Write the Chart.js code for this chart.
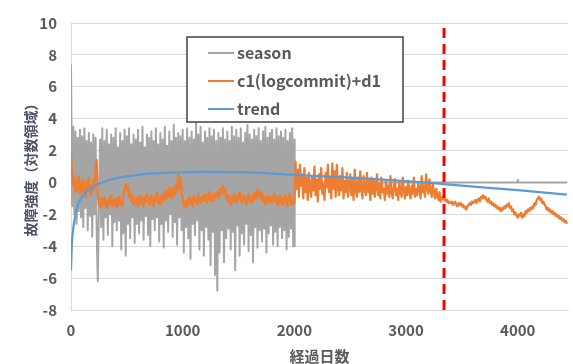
<!DOCTYPE html>
<html>
<head>
<meta charset="utf-8">
<script src="https://cdn.jsdelivr.net/npm/chart.js@4/dist/chart.umd.min.js"></script>
<style>
html,body{margin:0;padding:0;background:#fff;}
#wrap{position:relative;width:573px;height:364px;}
</style>
</head>
<body>
<div id="wrap"><canvas id="c" width="573" height="364"></canvas></div>
<script>
// ---- data ----
const seriesNames = ["season", "c1(logcommit)+d1", "trend"];
const xTicks = [0, 1000, 2000, 3000, 4000];
const yTicks = [-8, -6, -4, -2, 0, 2, 4, 6, 8, 10];
const changeDay = 3340;

// season: one value every 10 days, days 0..2000
const seasonStep = 10;
const seasonVals = [
  7.4,-1.5,3.5,-2.0,3.2,-2.6,2.8,-1.8,3.3,-2.2,
  2.9,-2.8,3.4,-1.6,2.6,-3.0,3.1,-2.1,2.5,-3.4,
  3.0,-2.0,2.8,-3.1,-6.2,-1.5,2.7,-2.8,3.4,-3.6,
  2.6,-2.2,3.3,-3.3,2.4,-2.0,3.0,-4.0,2.8,-2.5,
  3.4,-3.0,2.2,-2.4,3.1,-4.2,2.6,-3.2,3.3,-4.6,
  2.9,-2.6,3.4,-3.5,2.4,-2.2,3.0,-3.8,2.7,-2.6,
  3.3,-3.2,2.5,-2.4,3.5,-3.6,2.2,-2.1,3.0,-3.3,
  2.8,-4.0,3.2,-2.3,2.6,-3.0,3.4,-2.2,2.4,-3.7,
  3.1,-2.6,2.7,-4.1,3.5,-2.4,2.3,-3.1,3.2,-2.0,
  2.6,-3.4,3.6,-2.5,2.8,-3.9,3.1,-2.2,2.9,-3.0,
  3.3,-4.4,2.6,-2.8,3.4,-3.5,2.8,-4.8,3.2,-2.6,
  2.7,-3.3,3.9,-2.4,3.0,-4.2,3.5,-3.0,2.5,-4.6,
  3.2,-2.8,2.8,-3.6,3.4,-5.2,2.9,-3.1,3.3,-5.8,
  2.6,-6.8,3.1,-4.4,2.8,-3.0,3.4,-5.0,2.7,-3.5,
  3.2,-2.9,2.6,-4.2,3.5,-3.1,2.9,-5.5,3.3,-2.7,
  2.8,-4.6,3.4,-3.2,2.5,-3.9,3.1,-2.6,3.6,-4.3,
  3.0,-3.3,2.7,-5.0,3.3,-2.8,2.9,-4.1,3.4,-3.0,
  2.6,-3.7,3.2,-2.9,3.5,-4.4,2.8,-3.2,3.1,-2.7,
  3.3,-3.9,2.7,-3.1,3.4,-4.0,2.9,-2.8,3.2,-3.5,
  2.8,-3.0,3.3,-4.2,2.6,-3.4,3.1,-2.9,3.4,-4.0,
  2.7
];
// season after day 2000 (flat)
const seasonTailDays = [2000, 2005, 3995, 4000, 4005, 4440];
const seasonTailVals = [-4.0, 0.0, 0.0, 0.15, 0.0, 0.0];

// c1(logcommit)+d1: one value every 10 days, days 0..4440
const orangeStep = 10;
const orangeVals = [
  1.8,0.6,-0.2,0.3,-0.6,0.1,-0.5,0.4,-0.7,0.0,
  -0.6,0.2,-0.4,-0.9,0.1,-0.5,0.3,-0.8,-0.2,-0.6,
  0.2,-0.4,1.0,1.4,-0.8,-1.4,-1.0,-1.6,-1.1,-1.4,
  -0.9,-1.5,-1.2,-1.6,-1.0,-1.3,-0.8,-1.5,-1.1,-1.4,
  -1.0,-1.6,-1.2,-0.9,-1.4,-1.1,-1.5,-0.7,-0.4,-0.1,
  -0.5,-0.2,-0.9,-0.6,-1.2,-0.8,-1.4,-1.0,-1.3,-0.9,
  -1.5,-1.1,-0.8,-1.3,-1.0,-1.5,-0.9,-1.2,-0.7,-1.3,
  -1.0,-1.4,-0.8,-1.2,-1.5,-0.9,-1.1,-0.6,-1.3,-1.0,
  -1.4,-0.8,-1.2,-0.7,-1.1,-0.5,-1.0,-0.8,-0.3,-0.9,
  -0.4,-1.0,-0.3,-0.8,-0.2,-0.6,0.5,-0.4,0.3,-0.6,
  -1.0,-1.5,-1.2,-1.6,-1.1,-1.4,-0.9,-1.3,-1.0,-1.5,
  -0.8,-1.2,-1.0,-1.4,-0.7,-1.1,-1.3,-0.9,-1.2,-0.8,
  -1.1,-0.7,-1.3,-0.9,-0.6,-1.0,-1.2,-0.8,-1.1,-0.7,
  -0.9,-0.6,-1.0,-0.4,-0.8,-0.5,-0.2,-0.7,-0.4,-0.9,
  -1.2,-0.8,-1.1,-1.4,-0.9,-1.2,-0.7,-1.0,-1.3,-0.8,
  -1.1,-0.6,-1.0,-1.3,-0.8,-1.2,-0.9,-1.4,-1.0,-0.7,
  -1.2,-0.9,-1.3,-0.8,-1.1,-0.6,-1.0,-0.4,-0.9,-0.6,
  -1.0,-0.7,-1.2,-0.9,-1.4,-1.0,-0.8,-1.3,-1.1,-0.9,
  -1.3,-1.0,-0.7,-1.2,-0.9,-1.5,-1.1,-0.8,-1.3,-1.0,
  -1.4,-1.1,-0.8,-1.2,-1.5,-1.0,-0.7,-1.2,-1.4,-1.1,
  -1.3,1.3,-0.4,0.8,-0.9,1.1,-0.2,0.5,-1.0,0.9,
  -0.6,0.3,-1.1,0.6,-0.3,-0.9,0.4,-0.5,1.0,-0.8,
  0.2,-1.2,0.5,-0.4,0.9,-0.7,-0.1,-1.1,0.6,-0.3,
  1.1,-0.6,0.3,-1.0,1.2,-0.4,0.7,-0.9,1.1,-0.2,
  -0.8,0.4,-0.5,0.9,-1.0,0.1,-0.6,0.6,-0.9,-0.2,
  0.5,-0.8,0.2,-1.1,0.8,-0.4,-0.9,0.3,-0.6,0.7,
  -0.5,-1.0,0.4,-0.3,-0.8,0.6,-0.6,0.1,-1.1,0.3,
  -0.7,0.2,-0.9,-0.3,0.5,-0.8,-0.1,-1.0,0.3,-0.6,
  -0.4,-1.1,0.1,-0.7,-0.2,-0.9,0.4,-0.6,-1.0,-0.3,
  0.2,-0.8,-0.4,-1.1,0.0,-0.6,-0.9,0.3,-0.5,-1.0,
  -0.3,-0.8,0.1,-0.6,-1.0,-0.2,-0.7,0.3,-0.9,-0.4,
  -0.8,0.0,-0.5,-1.0,0.4,-0.6,-0.2,-0.9,0.5,-0.4,
  -0.7,0.2,-0.5,-0.9,-0.1,-0.6,-1.0,-0.4,-0.8,-1.1,
  -0.6,-1.2,-1.0,-0.9,-1.1,-1.0,-1.2,-1.1,-1.3,-1.2,
  -1.3,-1.2,-1.4,-1.3,-1.2,-1.4,-1.5,-1.3,-1.4,-1.3,
  -1.5,-1.4,-1.6,-1.5,-1.7,-1.5,-1.4,-1.3,-1.4,-1.2,
  -1.3,-1.2,-1.1,-1.3,-1.1,-1.0,-1.2,-0.9,-1.0,-0.8,
  -1.0,-0.9,-1.1,-1.2,-1.0,-1.3,-1.2,-1.4,-1.3,-1.5,
  -1.4,-1.6,-1.5,-1.7,-1.6,-1.8,-1.6,-1.7,-1.5,-1.6,
  -1.4,-1.5,-1.3,-1.6,-1.5,-1.8,-1.7,-2.0,-1.9,-2.1,
  -2.2,-2.0,-2.1,-1.9,-2.2,-2.0,-2.1,-1.8,-1.9,-1.7,
  -1.8,-1.6,-1.7,-1.5,-1.6,-1.3,-1.4,-1.1,-1.0,-0.9,
  -1.1,-1.0,-1.3,-1.2,-1.4,-1.5,-1.7,-1.6,-1.8,-1.7,
  -1.9,-1.8,-2.0,-1.9,-2.1,-2.0,-2.2,-2.1,-2.3,-2.2,
  -2.4,-2.3,-2.5,-2.4,-2.6
];

// trend (smooth curve)
const trendDays = [0,5,10,20,30,50,70,100,150,200,250,300,400,500,700,900,1200,1500,1800,2000,2500,3000,3330,3500,4000,4440];
const trendVals = [-5.5,-4.3,-3.6,-2.9,-2.4,-1.7,-1.25,-0.9,-0.5,-0.25,-0.1,0.05,0.25,0.38,0.55,0.62,0.66,0.64,0.56,0.48,0.3,0.08,-0.1,-0.2,-0.48,-0.76];

// ---- build datasets ----
const seasonData = seasonVals.map((v, i) => ({x: i * seasonStep, y: v}))
  .concat(seasonTailDays.map((d, i) => ({x: d, y: seasonTailVals[i]})));
const orangeData = orangeVals.map((v, i) => ({x: i * orangeStep, y: v}));
const trendData = trendDays.map((d, i) => ({x: d, y: trendVals[i]}));
const redData = [{x: changeDay, y: yTicks[0]}, {x: changeDay, y: yTicks[yTicks.length - 1]}];

const FONT = '"Noto Sans CJK JP", "Noto Sans", sans-serif';
const TEXT = '#595959';

const boxLegend = {
  id: 'boxLegend',
  afterDraw(chart) {
    const ctx = chart.ctx;
    const x0 = 187, y0 = 37, w = 216, h = 85;
    ctx.save();
    ctx.fillStyle = '#ffffff';
    ctx.fillRect(x0, y0, w, h);
    ctx.strokeStyle = '#404040';
    ctx.lineWidth = 1.5;
    ctx.strokeRect(x0, y0, w, h);
    const rows = [53, 81, 109];
    for (let i = 0; i < 3; i++) {
      const ds = chart.data.datasets[i];
      ctx.strokeStyle = ds.borderColor;
      ctx.lineWidth = 2;
      ctx.beginPath();
      ctx.moveTo(208, rows[i]);
      ctx.lineTo(234, rows[i]);
      ctx.stroke();
      ctx.fillStyle = TEXT;
      ctx.font = 'bold 16px ' + FONT;
      ctx.textBaseline = 'middle';
      ctx.textAlign = 'left';
      ctx.fillText(ds.label, 237, rows[i]);
    }
    ctx.restore();
  }
};

new Chart(document.getElementById('c'), {
  type: 'line',
  data: {
    datasets: [
      {label: seriesNames[0], data: seasonData, borderColor: '#A5A5A5', borderWidth: 2, pointRadius: 0, borderJoinStyle: 'round', order: 4},
      {label: seriesNames[1], data: orangeData, borderColor: '#ED7D31', borderWidth: 2.25, pointRadius: 0, borderJoinStyle: 'round', order: 3},
      {label: seriesNames[2], data: trendData, borderColor: '#5B9BD5', borderWidth: 2.25, pointRadius: 0, cubicInterpolationMode: 'monotone', order: 2},
      {label: 'change', data: redData, borderColor: '#FF0000', borderWidth: 3, borderDash: [10, 6], pointRadius: 0, order: 1}
    ]
  },
  options: {
    responsive: false,
    animation: false,
    devicePixelRatio: 1,
    layout: {padding: {top: 20, right: 5, left: 0, bottom: 0}},
    plugins: {legend: {display: false}, tooltip: {enabled: false}},
    scales: {
      x: {
        type: 'linear', min: 0, max: 4450,
        afterBuildTicks: s => { s.ticks = xTicks.map(v => ({value: v})); },
        afterFit: s => { s.height = 54; },
        grid: {drawOnChartArea: false, drawTicks: false},
        border: {display: true, color: '#d9d9d9', width: 1},
        ticks: {padding: 11, color: TEXT, font: {family: FONT, size: 15, weight: 'bold'}, maxRotation: 0, callback: v => String(v)},
        title: {display: true, text: '経過日数', color: TEXT, padding: 0, font: {family: FONT, size: 15, weight: 'bold', lineHeight: 1}}
      },
      y: {
        min: -8, max: 10,
        afterBuildTicks: s => { s.ticks = yTicks.map(v => ({value: v})); },
        afterFit: s => { s.width = 71; },
        grid: {color: '#d9d9d9', drawTicks: false},
        border: {display: true, color: '#d9d9d9', width: 1},
        ticks: {padding: 14, color: TEXT, font: {family: FONT, size: 15, weight: 'bold'}, callback: v => String(v)},
        title: {display: true, text: '故障強度（対数領域）', color: '#4a5068', padding: {top: 22, bottom: 0}, font: {family: FONT, size: 14, weight: 'bold', lineHeight: 1.2}}
      }
    }
  },
  plugins: [boxLegend]
});
</script>
</body>
</html>
